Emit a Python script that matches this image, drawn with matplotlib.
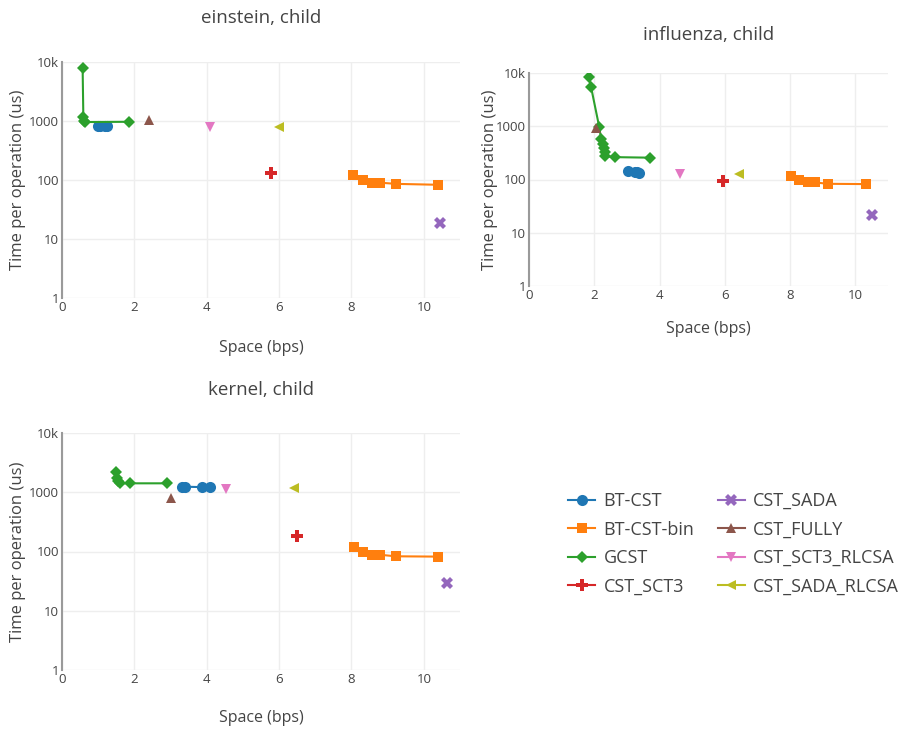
import matplotlib
matplotlib.use('Agg')
import matplotlib.pyplot as plt
from matplotlib.ticker import FixedLocator, FixedFormatter, NullLocator

plt.rcParams['font.family'] = ['Open Sans', 'DejaVu Sans']

series_names = ['BT-CST', 'BT-CST-bin', 'GCST', 'CST_SCT3',
                'CST_SADA', 'CST_FULLY', 'CST_SCT3_RLCSA', 'CST_SADA_RLCSA']
colors = ['#1f77b4', '#ff7f0e', '#2ca02c', '#d62728',
          '#9467bd', '#8c564b', '#e377c2', '#bcbd22']
markers = ['o', 's', 'D', 'P', 'X', '^', 'v', '<']
msizes = [8, 7.5, 6.5, 8, 8, 6.5, 6.5, 6.5]

# einstein, child
einstein = {
    'BT-CST': ([1.0, 1.05, 1.2, 1.25], [830, 820, 820, 810]),
    'BT-CST-bin': ([8.05, 8.32, 8.58, 8.8, 9.23, 10.39], [120, 100, 90, 90, 86, 83]),
    'GCST': ([0.57, 0.59, 0.61, 0.64, 1.86], [7900, 1170, 1000, 960, 970]),
    'CST_SCT3': ([5.78], [132]),
    'CST_SADA': ([10.46], [18.9]),
    'CST_FULLY': ([2.41], [1040]),
    'CST_SCT3_RLCSA': ([4.1], [800]),
    'CST_SADA_RLCSA': ([6.0], [800]),
}

# influenza, child
influenza = {
    'BT-CST': ([3.03, 3.25, 3.32, 3.38], [142, 140, 138, 133]),
    'BT-CST-bin': ([8.03, 8.28, 8.54, 8.76, 9.17, 10.33], [118, 98, 88, 88, 83, 82]),
    'GCST': ([1.83, 1.90, 2.15, 2.21, 2.26, 2.29, 2.32, 2.34, 2.62, 3.70],
             [8500, 5500, 980, 577, 465, 395, 333, 276, 263, 257]),
    'CST_SCT3': ([5.95], [94]),
    'CST_SADA': ([10.51], [21.3]),
    'CST_FULLY': ([2.05], [940]),
    'CST_SCT3_RLCSA': ([4.63], [127]),
    'CST_SADA_RLCSA': ([6.44], [127]),
}

# kernel, child
kernel = {
    'BT-CST': ([3.32, 3.4, 3.88, 4.1], [1240, 1240, 1220, 1220]),
    'BT-CST-bin': ([8.06, 8.32, 8.58, 8.8, 9.22, 10.38], [117, 97, 88, 88, 83, 82]),
    'GCST': ([1.48, 1.51, 1.56, 1.60, 1.87, 2.9], [2170, 1720, 1550, 1415, 1415, 1415]),
    'CST_SCT3': ([6.49], [183]),
    'CST_SADA': ([10.63], [29]),
    'CST_FULLY': ([3.02], [790]),
    'CST_SCT3_RLCSA': ([4.52], [1150]),
    'CST_SADA_RLCSA': ([6.4], [1180]),
}

y_ticks = [1, 10, 100, 1000, 10000]
y_labels = ['1', '10', '100', '1000', '10k']
x_ticks = [0, 2, 4, 6, 8, 10]

W, H = 906, 729
fig = plt.figure(figsize=(W / 100, H / 100), dpi=100)


def px_axes(l, t, r, b):
    return fig.add_axes([l / W, 1 - b / H, (r - l) / W, (b - t) / H])


def draw(ax, data, title, title_y, xlabel_y, ylab_x):
    for name, c, m, ms in zip(series_names, colors, markers, msizes):
        xs, ys = data[name]
        ax.plot(xs, ys, color=c, marker=m, markersize=ms, lw=1.5,
                markeredgewidth=0, label=name, zorder=3)
    ax.set_yscale('log')
    ax.set_ylim(1, 10000)
    ax.set_xlim(0, 11)
    ax.yaxis.set_major_locator(FixedLocator(y_ticks))
    ax.yaxis.set_major_formatter(FixedFormatter(y_labels))
    ax.yaxis.set_minor_locator(NullLocator())
    ax.set_xticks(x_ticks)
    ax.grid(True, color='#eeeeee', lw=1)
    ax.set_axisbelow(True)
    for s in ['top', 'right', 'bottom']:
        ax.spines[s].set_visible(False)
    ax.spines['left'].set_color('#9a9a9a')
    ax.spines['left'].set_linewidth(1.5)
    ax.tick_params(length=0, labelsize=9.5, colors='#444444', pad=2)
    pos = ax.get_position()
    fig.text(ylab_x / W, pos.y0 + pos.height / 2, 'Time per operation (us)',
             rotation=90, ha='center', va='center', fontsize=12, color='#444444')
    fig.text(pos.x0 + pos.width / 2, 1 - title_y / H, title, ha='center',
             va='center', fontsize=13.5, color='#444444')
    fig.text(pos.x0 + pos.width / 2, 1 - xlabel_y / H, 'Space (bps)', ha='center',
             va='center', fontsize=11.5, color='#444444')


ax1 = px_axes(62, 62, 460, 298)
draw(ax1, einstein, 'einstein, child', 18, 348, 18)
ax2 = px_axes(529, 73, 888, 286)
draw(ax2, influenza, 'influenza, child', 35, 329, 490)
ax3 = px_axes(62, 433, 460, 670)
draw(ax3, kernel, 'kernel, child', 390, 718, 18)

handles, labels = ax1.get_legend_handles_labels()
fig.legend(handles, labels, ncol=2, loc='upper left',
           bbox_to_anchor=(552 / W, 1 - 476 / H), frameon=False,
           fontsize=13, labelcolor='#444444', handlelength=1.5,
           columnspacing=1.3, labelspacing=0.58, handletextpad=0.45)

fig.savefig('out.png', dpi=100)
